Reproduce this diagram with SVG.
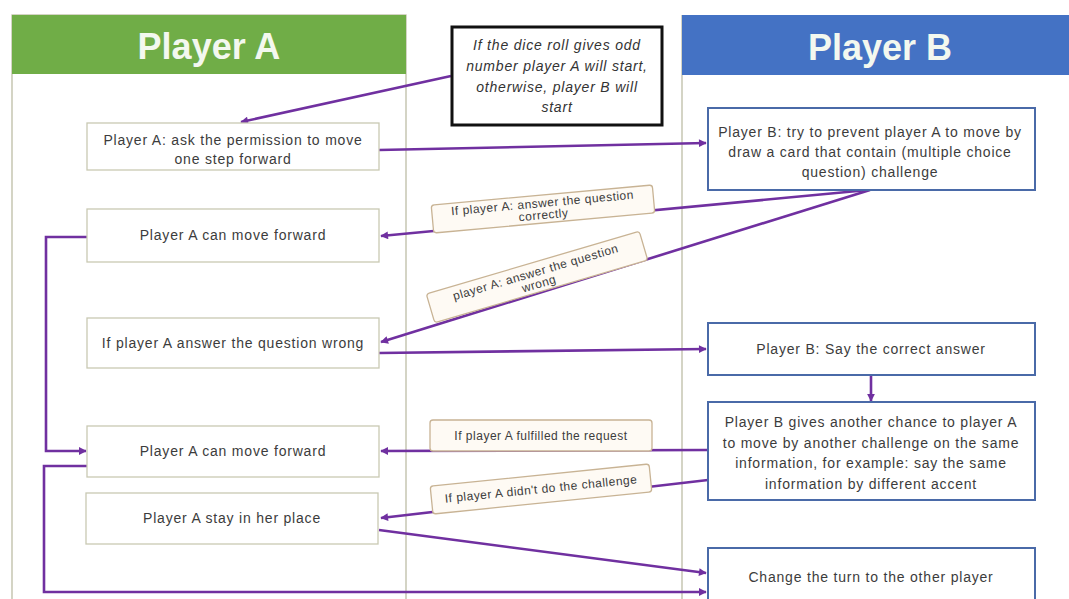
<svg xmlns="http://www.w3.org/2000/svg" width="1069" height="599" viewBox="0 0 1069 599">
<style>
.hdr{font-family:"Liberation Sans",Arial,sans-serif;font-weight:bold;font-size:36px;fill:#f3f8ef;text-anchor:middle}
.t{font-family:"Liberation Sans",Arial,sans-serif;font-size:14px;letter-spacing:0.8px;fill:#3c3c3c;text-anchor:middle}
.lt{font-family:"Liberation Sans",Arial,sans-serif;font-size:12px;letter-spacing:0.5px;fill:#3c3c3c;text-anchor:middle}
.note{font-family:"Liberation Sans",Arial,sans-serif;font-style:italic;font-size:14px;letter-spacing:0.8px;fill:#333;text-anchor:middle}
.na{fill:#fff;stroke:#c9c9b3;stroke-width:1.3}
.nb{fill:#fff;stroke:#4a6aa8;stroke-width:2}
.lbl{fill:#fefaf4;stroke:#c8b394;stroke-width:1.3}
.c{fill:none;stroke:#7030a0;stroke-width:2.6}
.lane{fill:none;stroke:#bdbda6;stroke-width:1.3}
</style>
<defs>
<marker id="ah" viewBox="0 0 10 10" refX="9" refY="5" markerWidth="3.4" markerHeight="3" orient="auto" markerUnits="strokeWidth">
<path d="M0,0 L10,5 L0,10 z" fill="#7030a0"/>
</marker>
</defs>
<rect width="1069" height="599" fill="#fff"/>
<g id="lanes">
<rect class="lane" x="12" y="15" width="394" height="600"/>
<line class="lane" x1="682" y1="15" x2="682" y2="599"/>
<rect x="12" y="15" width="394" height="59" fill="#70ad47"/>
<text class="hdr" x="209" y="59">Player A</text>
<rect x="682" y="15" width="400" height="60" fill="#4472c4"/>
<text class="hdr" x="880" y="60">Player B</text>
</g>
<g id="connectors">
<line class="c" x1="451" y1="76" x2="241" y2="122" marker-end="url(#ah)"/>
<line class="c" x1="379" y1="150" x2="706" y2="143" marker-end="url(#ah)"/>
<line class="c" x1="868" y1="190" x2="381" y2="236" marker-end="url(#ah)"/>
<line class="c" x1="870" y1="190" x2="381" y2="342" marker-end="url(#ah)"/>
<line class="c" x1="379" y1="353" x2="706" y2="349" marker-end="url(#ah)"/>
<line class="c" x1="871" y1="375" x2="871" y2="401" marker-end="url(#ah)"/>
<path class="c" d="M87,237 H46 V451 H86" marker-end="url(#ah)"/>
<path class="c" d="M87,466 H44 V592 H706" marker-end="url(#ah)"/>
<line class="c" x1="708" y1="450" x2="381" y2="451" marker-end="url(#ah)"/>
<line class="c" x1="708" y1="480" x2="381" y2="518" marker-end="url(#ah)"/>
<line class="c" x1="379" y1="530" x2="706" y2="573" marker-end="url(#ah)"/>
</g>
<g id="note">
<rect x="452" y="27" width="210" height="98" fill="#fff" stroke="#111" stroke-width="3"/>
<text class="note" x="557" y="50">If the dice roll gives odd</text>
<text class="note" x="557" y="71">number player A will start,</text>
<text class="note" x="557" y="92">otherwise, player B will</text>
<text class="note" x="557" y="112">start</text>
</g>
<g id="a1">
<rect class="na" x="87" y="123" width="292" height="47"/>
<text class="t" x="233" y="145">Player A: ask the permission to move</text>
<text class="t" x="233" y="164">one step forward</text>
</g>
<g id="a2">
<rect class="na" x="87" y="209" width="292" height="53"/>
<text class="t" x="233" y="240">Player A can move forward</text>
</g>
<g id="a3">
<rect class="na" x="87" y="318" width="292" height="50"/>
<text class="t" x="233" y="348">If player A answer the question wrong</text>
</g>
<g id="a4">
<rect class="na" x="87" y="426" width="292" height="51"/>
<text class="t" x="233" y="456">Player A can move forward</text>
</g>
<g id="a5">
<rect class="na" x="86" y="493" width="292" height="51"/>
<text class="t" x="232" y="523">Player A stay in her place</text>
</g>
<g id="b1">
<rect class="nb" x="708" y="108" width="327" height="82"/>
<text class="t" x="870" y="137">Player B: try to prevent player A to move by</text>
<text class="t" x="870" y="157">draw a card that contain (multiple choice</text>
<text class="t" x="870" y="177">question) challenge</text>
</g>
<g id="b2">
<rect class="nb" x="708" y="323" width="327" height="52"/>
<text class="t" x="871" y="354">Player B: Say the correct answer</text>
</g>
<g id="b3">
<rect class="nb" x="708" y="402" width="327" height="98"/>
<text class="t" x="871" y="427">Player B gives another chance to player A</text>
<text class="t" x="871" y="448">to move by another challenge on the same</text>
<text class="t" x="871" y="468">information, for example: say the same</text>
<text class="t" x="871" y="489">information by different accent</text>
</g>
<g id="b4">
<rect class="nb" x="708" y="548" width="327" height="58"/>
<text class="t" x="871" y="582">Change the turn to the other player</text>
</g>
<g id="label1" transform="translate(543,209) rotate(-5.2)">
<rect class="lbl" x="-111" y="-14" width="222" height="28" rx="3"/>
<text class="lt" x="0" y="-2">If player A: answer the question</text>
<text class="lt" x="0" y="10">correctly</text>
</g>
<g id="label2" transform="translate(537,277) rotate(-16.4)">
<rect class="lbl" x="-111" y="-15" width="222" height="30" rx="3"/>
<text class="lt" x="0" y="-1">player A: answer the question</text>
<text class="lt" x="0" y="11">wrong</text>
</g>
<g id="label3">
<rect class="lbl" x="430" y="420" width="222" height="31" rx="3"/>
<text class="lt" x="541" y="440">If player A fulfilled the request</text>
</g>
<g id="label4" transform="translate(541,489) rotate(-5.8)">
<rect class="lbl" x="-110" y="-14" width="220" height="28" rx="3"/>
<text class="lt" x="0" y="4">If player A didn't do the challenge</text>
</g>
</svg>
